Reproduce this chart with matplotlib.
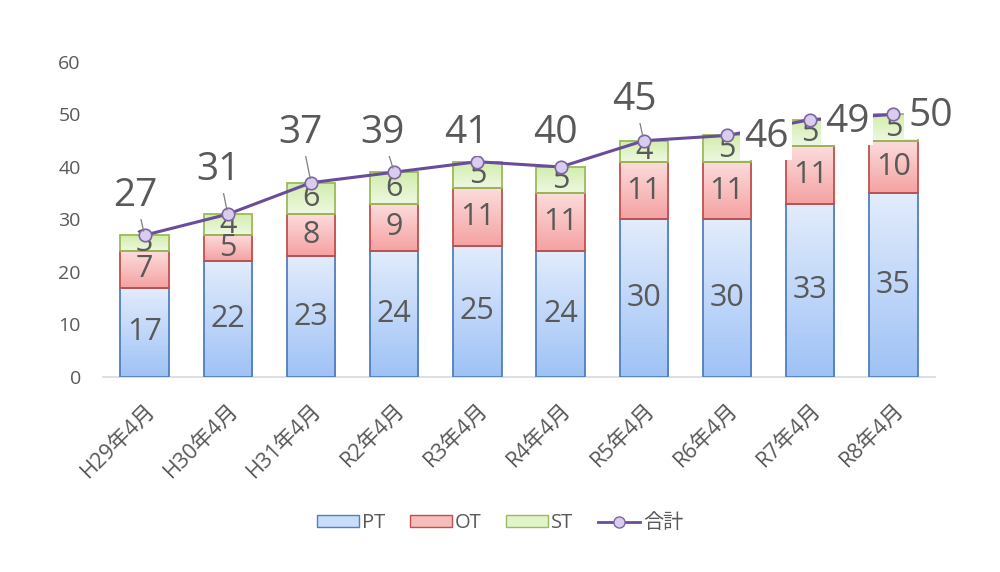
import numpy as np
import matplotlib
matplotlib.use("Agg")
from matplotlib import pyplot as plt
from matplotlib.patches import Patch
from matplotlib.lines import Line2D
from matplotlib.colors import LinearSegmentedColormap

plt.rcParams['font.family'] = ['Open Sans', 'Noto Sans CJK JP', 'DejaVu Sans']

# data
months = ["H29年4月", "H30年4月", "H31年4月", "R2年4月", "R3年4月",
          "R4年4月", "R5年4月", "R6年4月", "R7年4月", "R8年4月"]
pt = [17, 22, 23, 24, 25, 24, 30, 30, 33, 35]
ot = [7, 5, 8, 9, 11, 11, 11, 11, 11, 10]
st = [3, 4, 6, 6, 5, 5, 4, 5, 5, 5]
total = [27, 31, 37, 39, 41, 40, 45, 46, 49, 50]

# where each total label sits relative to its point (pixels: dx, dy up) and leader line on/off
label_off = [(-9, 39), (-9, 44), (-10, 50), (-12, 39), (-11, 29),
             (-5, 34), (-9, 41), (39, -2), (37, -2), (37, -2)]
leader = [True, True, True, True, False, False, True, False, False, False]

TXT = "#595959"

# (top colour, bottom colour, edge colour)
styles = {
    "PT": ("#e2ecfc", "#9fc2f6", "#4f7fbe"),
    "OT": ("#fcdcdc", "#f5a2a2", "#c0504d"),
    "ST": ("#d2edab", "#eef8e2", "#9bbb59"),
}

fig = plt.figure(figsize=(10, 5.72), dpi=100)
ax = fig.add_axes([0.103, 0.341, 0.832, 0.5507])

x = np.arange(len(months))
w = 0.58


def gradient_bars(vals, bottom, name):
    top_c, bot_c, edge = styles[name]
    cmap = LinearSegmentedColormap.from_list(name, [bot_c, top_c])
    grad = np.linspace(0, 1, 64).reshape(-1, 1)
    bars = ax.bar(x, vals, w, bottom=bottom, facecolor="none",
                  edgecolor=edge, linewidth=1.3, zorder=3)
    for b in bars:
        bx, by = b.get_x(), b.get_y()
        bw, bh = b.get_width(), b.get_height()
        im = ax.imshow(grad, cmap=cmap, aspect="auto", origin="lower",
                       extent=[bx, bx + bw, by, by + bh], zorder=2)
        im.set_clip_path(b)
    return bars


b1 = gradient_bars(pt, 0, "PT")
bot2 = np.array(pt)
b2 = gradient_bars(ot, bot2, "OT")
bot3 = bot2 + np.array(ot)
b3 = gradient_bars(st, bot3, "ST")

for bars, vals in [(b1, pt), (b2, ot), (b3, st)]:
    for b, v in zip(bars, vals):
        ax.text(b.get_x() + b.get_width() / 2, b.get_y() + b.get_height() / 2,
                str(v), ha="center", va="center", fontsize=22, color=TXT, zorder=4)

ax.plot(x, total, color="#6a4c9c", linewidth=2.2, marker="o", markersize=9,
        markerfacecolor="#d8cdef", markeredgecolor="#8064a2",
        markeredgewidth=1.2, zorder=5)

for i, v in enumerate(total):
    dx, dy = label_off[i]
    ap = None
    if leader[i]:
        ap = dict(arrowstyle="-", color="#7f7f7f", lw=0.9, shrinkA=0, shrinkB=3)
    ax.annotate(str(v), (x[i], v), xytext=(dx * 0.72, dy * 0.72),
                textcoords="offset points", ha="center", va="center",
                fontsize=28, color=TXT, zorder=6, arrowprops=ap,
                bbox=dict(boxstyle="square,pad=0.1", fc="white", ec="none"))

ax.set_xlim(-0.5, len(months) - 0.5)
ax.set_ylim(0, 60)
ax.set_yticks(range(0, 61, 10))
ax.set_xticks(x)
ax.set_xticklabels(months, rotation=45, ha="right", rotation_mode="anchor")
ax.tick_params(axis="y", length=0, pad=16, labelsize=14, labelcolor=TXT)
ax.tick_params(axis="x", length=0, pad=16, labelsize=15.5, labelcolor=TXT)
for s in ["top", "right", "left"]:
    ax.spines[s].set_visible(False)
ax.spines["bottom"].set_color("#d9d9d9")
ax.spines["bottom"].set_linewidth(1.2)

handles = [
    Patch(facecolor="#c9dcf9", edgecolor=styles["PT"][2], label="PT"),
    Patch(facecolor="#f9bcbc", edgecolor=styles["OT"][2], label="OT"),
    Patch(facecolor="#e1f3c9", edgecolor=styles["ST"][2], label="ST"),
    Line2D([0], [0], color="#6a4c9c", lw=2, marker="o", markersize=8,
           markerfacecolor="#d8cdef", markeredgecolor="#8064a2", label="合計"),
]
leg = fig.legend(handles=handles, loc="center", bbox_to_anchor=(0.5, 0.085),
                 ncol=4, frameon=False, fontsize=14.5, handlelength=2.1,
                 handleheight=0.5, columnspacing=1.2, handletextpad=0.15)
for t in leg.get_texts():
    t.set_color(TXT)

fig.savefig("out.png", dpi=100)
